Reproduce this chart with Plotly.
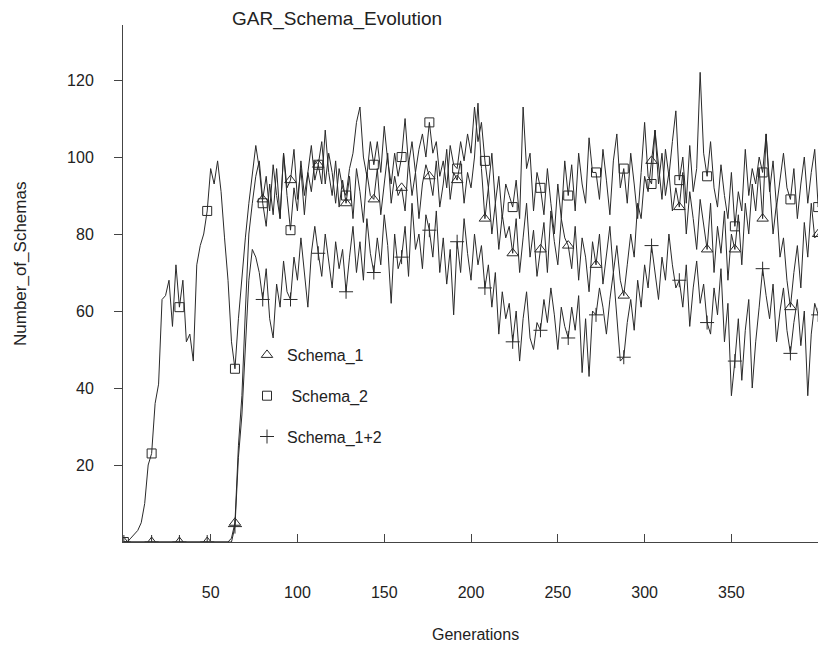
import plotly.graph_objects as go

# generations sampled every 2 (0..404); markers every 16 generations
generations = list(range(0, 405, 2))

schema_1 = [
    0, 0, 0, 0, 0, 0, 0, 0,
    0, 0, 0, 0, 0, 0, 0, 0,
    0, 0, 0, 0, 0, 0, 0, 0,
    0, 0, 0, 0, 0, 0, 0, 1,
    5, 25, 38, 60, 80, 88, 95, 99,
    89, 95, 86, 98, 90, 84, 101, 92,
    94, 102, 89, 97, 85, 96, 91, 99,
    98, 93, 107, 96, 90, 99, 87, 94,
    88, 95, 84, 97, 91, 83, 96, 90,
    89, 97, 85, 93, 101, 88, 95, 90,
    92, 86, 99, 90, 96, 84, 93, 98,
    95, 90, 99, 87, 93, 102, 89, 96,
    94, 99, 88, 96, 92, 100, 114, 97,
    84, 92, 80, 88, 76, 85, 79, 82,
    75, 84, 70, 79, 88, 74, 81, 69,
    76, 83, 70, 86, 78, 72, 84, 79,
    77, 71, 82, 68, 79, 74, 65, 78,
    72, 80, 67, 75, 82, 70, 77, 68,
    64, 72, 80, 74, 88, 84, 95, 91,
    99, 107, 93, 101, 90, 96, 86, 92,
    87, 96, 80, 91, 84, 76, 89, 82,
    76, 88, 70, 82, 75, 86, 68, 80,
    76, 85, 72, 88, 80, 93, 86, 97,
    84, 106, 92, 80, 88, 74, 79, 68,
    61, 70, 77, 66, 83, 74, 88, 79,
    80, 85, 79,
]

schema_2 = [
    0, 0, 1, 2, 3, 5, 10, 20,
    23, 36, 41, 63, 64, 68, 56, 72,
    61, 68, 52, 54, 47, 72, 77, 80,
    86, 97, 93, 99, 91, 79, 68, 52,
    45, 58, 69, 79, 88, 96, 103, 97,
    88, 82, 93, 85, 97, 84, 101, 90,
    81, 92, 86, 99, 90, 96, 103, 94,
    98, 104, 93, 101, 96, 88, 97, 92,
    90, 97, 101, 109, 113, 100, 95, 104,
    98, 104, 96, 108, 99, 93, 101, 95,
    100, 110, 98, 104, 96, 102, 106, 100,
    109, 101, 104, 95, 99, 92, 103, 98,
    97, 104, 99, 106, 101, 113, 104, 109,
    99, 92, 101, 88, 95, 84, 93, 90,
    87, 94, 84, 113, 97, 101, 86, 96,
    92, 85, 97, 88, 80, 93, 84, 99,
    90, 98, 86, 101, 93, 88, 105, 96,
    96, 89, 102, 94, 85, 99, 106, 92,
    97, 88, 101, 93, 84, 96, 109, 95,
    93, 107, 98, 89, 102, 95, 104, 112,
    94, 100, 88, 103, 91, 97, 122, 101,
    95, 104, 92, 87, 98, 90, 84, 96,
    82, 91, 86, 102, 90, 97, 93, 100,
    96, 106, 91, 99, 87, 94, 101, 92,
    89, 97, 84, 93, 100, 88, 96, 102,
    87, 93, 78,
]

schema_1_2 = [
    0, 0, 0, 0, 0, 0, 0, 0,
    0, 0, 0, 0, 0, 0, 0, 0,
    0, 0, 0, 0, 0, 0, 0, 0,
    0, 0, 0, 0, 0, 0, 0, 0,
    4, 22, 33, 52, 68, 76, 74, 70,
    63, 71, 58, 53, 67, 61, 73, 65,
    63, 74, 68, 79, 70, 61, 75, 82,
    75, 69, 80, 73, 66, 78, 71, 76,
    65, 74, 82, 70, 78, 68, 84, 75,
    70, 79, 72, 85, 77, 62, 80, 71,
    74, 82, 69, 88, 76, 80, 71, 85,
    81, 74, 86, 70, 79, 67, 76, 59,
    78, 70, 84, 75, 68, 80, 72, 77,
    66, 72, 61, 70, 54, 65, 58, 62,
    52, 60, 47, 58, 65, 53, 50, 57,
    55, 63, 57, 66, 59, 50, 61, 56,
    53, 61, 55, 64, 44, 58, 43, 60,
    59, 66, 61, 54, 63, 70, 58, 47,
    48, 57, 63, 55, 68, 61, 72, 66,
    77, 70, 63, 74, 68, 80, 72, 66,
    68, 61, 72, 56, 66, 73, 62, 67,
    57, 54, 66, 59, 71, 52, 62, 38,
    47, 58, 42, 55, 63, 40, 52, 61,
    71, 64, 58, 67, 52, 60, 66, 55,
    49, 57, 63, 51, 60, 38, 54, 62,
    59, 55, 51,
]

series_names = ["Schema_1", "\u00a0Schema_2", "Schema_1+2"]
series_values = [schema_1, schema_2, schema_1_2]
series_symbols = ["triangle-up-open", "square-open", "cross-thin-open"]
series_sizes = [10, 9, 10]

x_ticks = [50, 100, 150, 200, 250, 300, 350]
y_ticks = [20, 40, 60, 80, 100, 120]

LINE = "#2a2a2a"
FONT = "Liberation Sans, Arial, sans-serif"

# figure geometry (the page body adds an 8px offset)
W, H = 818, 637
ML, MR, MT, MB = 115, 0, 17, 103
PW, PH = W - ML - MR, H - MT - MB


def px(xf):
    return (xf - ML) / PW


def py(yf):
    return (H - MB - yf) / PH


fig = go.Figure()
for vals in series_values:
    fig.add_trace(go.Scatter(x=generations, y=vals, mode="lines",
                             line=dict(color=LINE, width=1),
                             showlegend=False, hoverinfo="skip"))
for i, (name, vals) in enumerate(zip(series_names, series_values)):
    fig.add_trace(go.Scatter(x=generations[::8], y=vals[::8], mode="markers",
                             name=name, legendgroup=f"g{i}",
                             marker=dict(symbol=series_symbols[i], size=series_sizes[i],
                                         color=LINE, line=dict(width=1, color=LINE))))

fig.update_layout(
    width=W, height=H,
    margin=dict(l=ML, r=MR, t=MT, b=MB),
    paper_bgcolor="white", plot_bgcolor="white",
    font=dict(family=FONT, size=16, color="#222"),
    showlegend=True,
    legend=dict(x=px(239), y=py(330), xanchor="left", yanchor="top",
                bgcolor="rgba(0,0,0,0)", tracegroupgap=17,
                font=dict(size=16, color="#222")),
    xaxis=dict(range=[-0.5, 404.5], showline=True, linecolor="#444", linewidth=1,
               ticks="inside", ticklen=8, tickcolor="#444", tickvals=x_ticks,
               showgrid=False, zeroline=False, ticklabelstandoff=36,
               tickfont=dict(size=16)),
    yaxis=dict(range=[0, 134.3], showline=True, linecolor="#444", linewidth=1,
               ticks="outside", ticklen=8, tickcolor="#444", tickvals=y_ticks,
               showgrid=False, zeroline=False, ticklabelstandoff=17,
               tickfont=dict(size=16)),
    annotations=[
        dict(text="GAR_Schema_Evolution", x=px(222), y=py(11), xref="paper", yref="paper",
             xanchor="left", yanchor="middle", showarrow=False, font=dict(size=19)),
        dict(text="Generations", x=px(467), y=py(626), xref="paper", yref="paper",
             xanchor="center", yanchor="middle", showarrow=False, font=dict(size=16)),
        dict(text="Number_of_Schemas", x=px(12), y=py(256), xref="paper", yref="paper",
             xanchor="center", yanchor="middle", showarrow=False, textangle=-90,
             font=dict(size=17)),
    ],
)

fig.write_html("out.html")
